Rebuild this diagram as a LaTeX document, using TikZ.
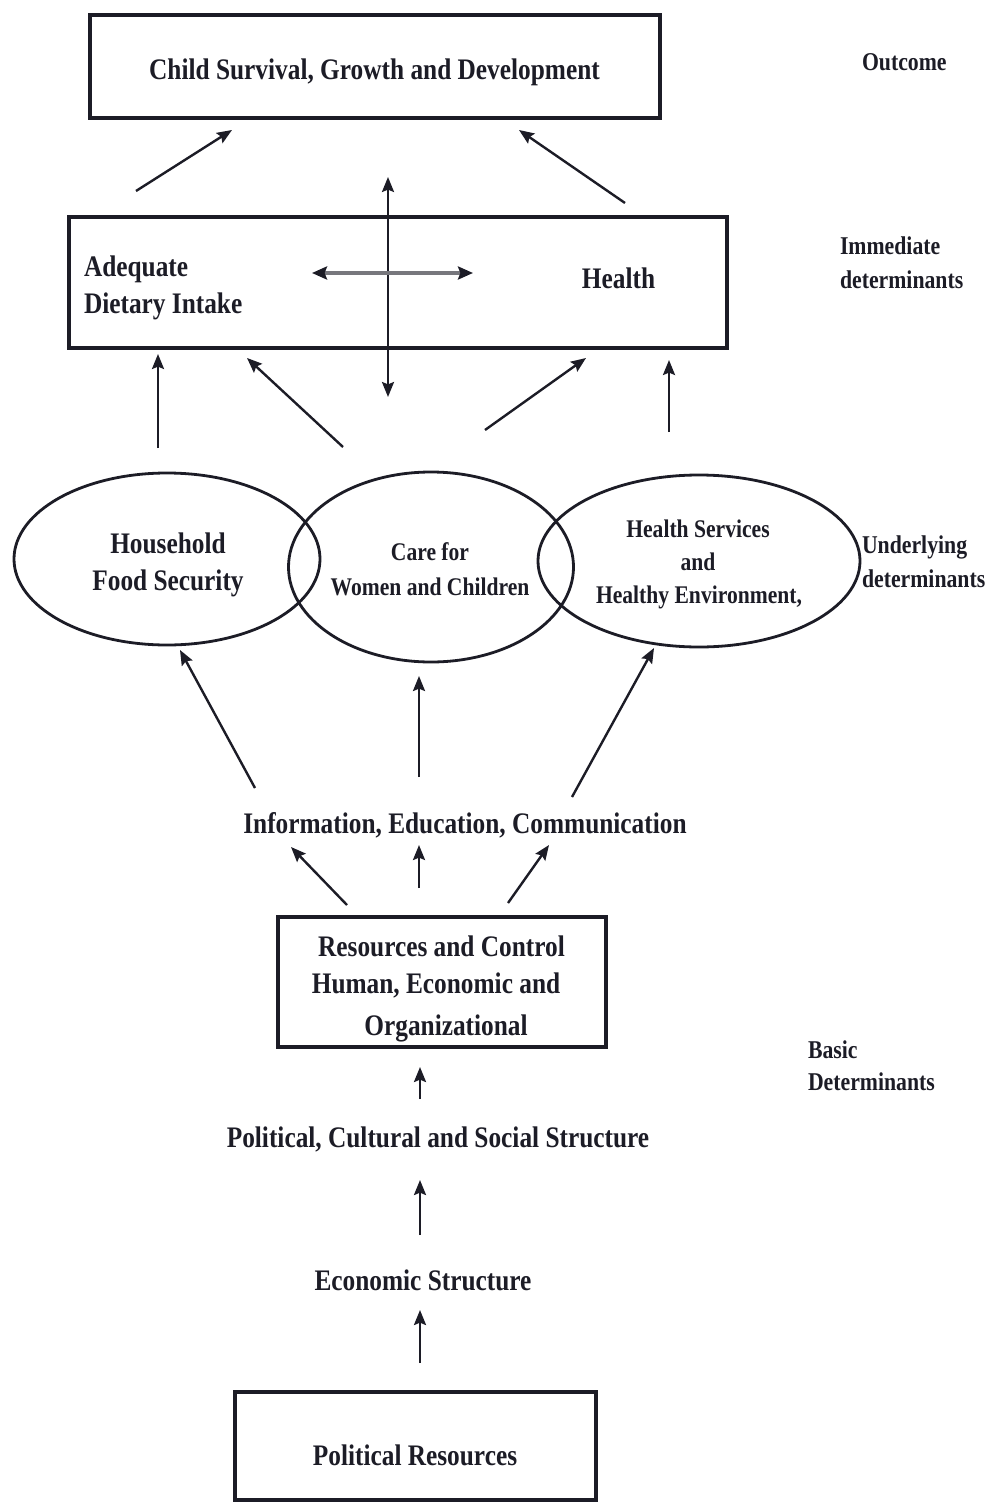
\documentclass[tikz,border=0pt]{standalone}
\usepackage{fontspec}
\setmainfont{Liberation Serif}[FakeStretch=0.85]
\usetikzlibrary{arrows.meta,shapes.geometric}
\definecolor{inkc}{RGB}{28,28,38}

\begin{document}
\begin{tikzpicture}[x=0.5pt,y=-0.5pt,
  every node/.style={text=inkc, inner sep=0pt, outer sep=0pt},
  boxframe/.style={draw=inkc, line width=1.7pt, rectangle},
  oval/.style={draw=inkc, line width=1.4pt, ellipse},
  bigtxt/.style={font=\bfseries\fontsize{14.9}{18}\selectfont, anchor=base},
  smalltxt/.style={font=\bfseries\fontsize{12.7}{15}\selectfont, anchor=base},
  sidetxt/.style={font=\bfseries\fontsize{12.8}{15}\selectfont, anchor=base west},
  >={Stealth[length=7.5pt,width=6pt,inset=1.2pt]},
  arrowup/.style={draw=inkc, line width=1.2pt, ->},
  arrowboth/.style={draw=inkc, line width=1.2pt, <->},
]
\useasboundingbox (0,0) rectangle (995,1503);

% ---------- outcome ----------
\node[boxframe, minimum width=285pt, minimum height=51.5pt] (outbox) at (375,66.5) {};
\node[bigtxt] (outtxt) at (374.5,80) {Child Survival, Growth and Development};
\node[sidetxt] (lblout) at (862,71) {Outcome};

% ---------- immediate determinants ----------
\node[boxframe, minimum width=329pt, minimum height=65.5pt] (immbox) at (398,282.5) {};
\node[bigtxt, anchor=base west] (diet1) at (84,277) {Adequate};
\node[bigtxt, anchor=base west] (diet2) at (84,313) {Dietary Intake};
\node[bigtxt] (health) at (618.5,288) {Health};
\node[sidetxt] (lblimm1) at (840,255) {Immediate};
\node[sidetxt] (lblimm2) at (840,288) {determinants};

% ---------- underlying determinants ----------
\node[oval, minimum width=153pt, minimum height=86pt] (hfs) at (167,559) {};
\node[oval, minimum width=142.5pt, minimum height=95pt] (care) at (431,567) {};
\node[oval, minimum width=161pt, minimum height=86pt] (hse) at (699,561) {};
\node[bigtxt] (hfs1) at (168,553) {Household};
\node[bigtxt] (hfs2) at (168,590) {Food Security};
\node[smalltxt] (care1) at (430,560) {Care for};
\node[smalltxt] (care2) at (430,595) {Women and Children};
\node[smalltxt] (hse1) at (698,537) {Health Services};
\node[smalltxt] (hse2) at (698,570) {and};
\node[smalltxt] (hse3) at (699,603) {Healthy Environment,};
\node[sidetxt] (lblund1) at (862,553) {Underlying};
\node[sidetxt] (lblund2) at (862,587) {determinants};

% ---------- basic determinants ----------
\node[bigtxt] (iec) at (465,833) {Information, Education, Communication};
\node[boxframe, minimum width=164pt, minimum height=65pt] (resbox) at (442,982) {};
\node[bigtxt] (res1) at (441.5,956) {Resources and Control};
\node[bigtxt] (res2) at (436,993) {Human, Economic and};
\node[bigtxt] (res3) at (446,1035) {Organizational};
\node[sidetxt] (lblbas1) at (808,1058) {Basic};
\node[sidetxt] (lblbas2) at (808,1090) {Determinants};
\node[bigtxt] (pcs) at (438,1147) {Political, Cultural and Social Structure};
\node[bigtxt] (econ) at (423,1290) {Economic Structure};
\node[boxframe, minimum width=180.5pt, minimum height=54pt] (polbox) at (415.5,1446) {};
\node[bigtxt] (poltxt) at (415,1465) {Political Resources};

% ---------- arrow end points ----------
\coordinate (o1s) at (136,191);  \coordinate (o1e) at (232,130);
\coordinate (o2s) at (625,203);  \coordinate (o2e) at (519,130);
\coordinate (vts) at (388,177);  \coordinate (vte) at (388,397);
\coordinate (hzs) at (312,273);  \coordinate (hze) at (473,273);
\coordinate (i1s) at (158,448);  \coordinate (i1e) at (158,354);
\coordinate (i2s) at (343,447);  \coordinate (i2e) at (247,358);
\coordinate (i3s) at (485,430);  \coordinate (i3e) at (586,358);
\coordinate (i4s) at (669,432);  \coordinate (i4e) at (669,360);
\coordinate (u1s) at (255,788);  \coordinate (u1e) at (180,650);
\coordinate (u2s) at (419,777);  \coordinate (u2e) at (419,676);
\coordinate (u3s) at (572,797);  \coordinate (u3e) at (654,648);
\coordinate (e1s) at (347,905);  \coordinate (e1e) at (291,847);
\coordinate (e2s) at (419,888);  \coordinate (e2e) at (419,845);
\coordinate (e3s) at (508,903);  \coordinate (e3e) at (549,845);
\coordinate (b1s) at (420,1099); \coordinate (b1e) at (420,1067);
\coordinate (b2s) at (420,1235); \coordinate (b2e) at (420,1180);
\coordinate (b3s) at (420,1363); \coordinate (b3e) at (420,1310);

% ---------- connectors ----------
\draw[arrowup] (o1s) -- (o1e);
\draw[arrowup] (o2s) -- (o2e);
\draw[arrowboth] (vts) -- (vte);
\draw[draw=inkc!60, line width=2pt,
      {Stealth[length=7.5pt,width=6.5pt,inset=1.2pt,color=inkc]}-{Stealth[length=7.5pt,width=6.5pt,inset=1.2pt,color=inkc]}]
      (hzs) -- (hze);
\draw[arrowup] (i1s) -- (i1e);
\draw[arrowup] (i2s) -- (i2e);
\draw[arrowup] (i3s) -- (i3e);
\draw[arrowup] (i4s) -- (i4e);
\draw[arrowup] (u1s) -- (u1e);
\draw[arrowup] (u2s) -- (u2e);
\draw[arrowup] (u3s) -- (u3e);
\draw[arrowup] (e1s) -- (e1e);
\draw[arrowup] (e2s) -- (e2e);
\draw[arrowup] (e3s) -- (e3e);
\draw[arrowup] (b1s) -- (b1e);
\draw[arrowup] (b2s) -- (b2e);
\draw[arrowup] (b3s) -- (b3e);
\end{tikzpicture}
\end{document}
